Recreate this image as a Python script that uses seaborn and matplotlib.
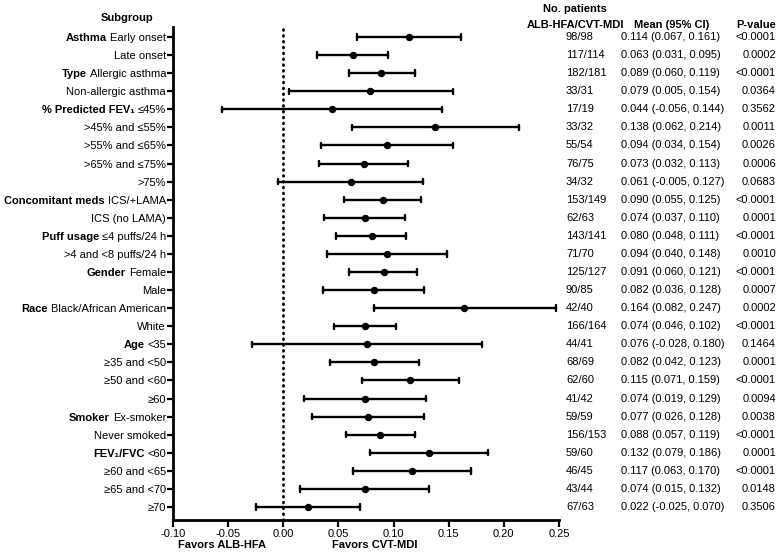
import numpy as np
import pandas as pd
import matplotlib
matplotlib.use("Agg")
import matplotlib.pyplot as plt
import matplotlib.transforms as mtransforms
import seaborn as sns

bold_parts = ["Asthma", "", "Type", "", "% Predicted FEV\u2081", "", "", "", "",
              "Concomitant meds", "", "Puff usage", "", "Gender", "", "Race", "",
              "Age", "", "", "", "Smoker", "", "FEV\u2081/FVC", "", "", ""]
normal_parts = ["Early onset", "Late onset", "Allergic asthma", "Non-allergic asthma",
                "\u226445%", ">45% and \u226455%", ">55% and \u226465%", ">65% and \u226475%", ">75%",
                "ICS/+LAMA", "ICS (no LAMA)", "\u22644 puffs/24 h", ">4 and <8 puffs/24 h",
                "Female", "Male", "Black/African American", "White",
                "<35", "\u226535 and <50", "\u226550 and <60", "\u226560",
                "Ex-smoker", "Never smoked", "<60", "\u226560 and <65", "\u226565 and <70", "\u226570"]
patients = ["98/98", "117/114", "182/181", "33/31", "17/19", "33/32", "55/54", "76/75", "34/32",
            "153/149", "62/63", "143/141", "71/70", "125/127", "90/85", "42/40", "166/164",
            "44/41", "68/69", "62/60", "41/42", "59/59", "156/153", "59/60", "46/45", "43/44", "67/63"]
means = [0.114, 0.063, 0.089, 0.079, 0.044, 0.138, 0.094, 0.073, 0.061, 0.090, 0.074, 0.080, 0.094,
         0.091, 0.082, 0.164, 0.074, 0.076, 0.082, 0.115, 0.074, 0.077, 0.088, 0.132, 0.117, 0.074, 0.022]
lows = [0.067, 0.031, 0.060, 0.005, -0.056, 0.062, 0.034, 0.032, -0.005, 0.055, 0.037, 0.048, 0.040,
        0.060, 0.036, 0.082, 0.046, -0.028, 0.042, 0.071, 0.019, 0.026, 0.057, 0.079, 0.063, 0.015, -0.025]
highs = [0.161, 0.095, 0.119, 0.154, 0.144, 0.214, 0.154, 0.113, 0.127, 0.125, 0.110, 0.111, 0.148,
         0.121, 0.128, 0.247, 0.102, 0.180, 0.123, 0.159, 0.129, 0.128, 0.119, 0.186, 0.170, 0.132, 0.070]
pvalues = ["<0.0001", "0.0002", "<0.0001", "0.0364", "0.3562", "0.0011", "0.0026", "0.0006", "0.0683",
           "<0.0001", "0.0001", "<0.0001", "0.0010", "<0.0001", "0.0007", "0.0002", "<0.0001",
           "0.1464", "0.0001", "<0.0001", "0.0094", "0.0038", "<0.0001", "0.0001", "<0.0001", "0.0148", "0.3506"]
x_ticks = [-0.10, -0.05, 0.00, 0.05, 0.10, 0.15, 0.20, 0.25]

n = len(means)
rows = []
for i in range(n):
    for v in (lows[i], means[i], highs[i]):
        rows.append({"row": i, "val": v})
df = pd.DataFrame(rows)

sns.set_style("ticks", {"axes.edgecolor": "black", "text.color": "black",
                        "xtick.color": "black", "ytick.color": "black",
                        "axes.labelcolor": "black"})
plt.rcParams['font.family'] = ['Liberation Sans', 'DejaVu Sans']
FS = 8

fig = plt.figure(figsize=(7.78, 5.52), dpi=100)
ax = fig.add_axes([173/778, 1 - 520/552, (559 - 173)/778, (520 - 27)/552])

sns.pointplot(data=df, x="val", y="row", orient="h", order=list(range(n)),
              estimator="median", errorbar=lambda v: (v.min(), v.max()),
              linestyle="none", color="black", markers="o", markersize=3.3,
              capsize=0.3, err_kws={"linewidth": 1.7}, ax=ax)

ax.axvline(0, color="black", lw=2, linestyle=(0, (0.3, 1.8)), dash_capstyle="round", zorder=0)

ax.set_xlim(-0.10, 0.25)
ax.set_ylim(n - 1 + 0.72, -0.553)
ax.set_xticks(x_ticks)
ax.set_xticklabels([f"{t:.2f}" for t in x_ticks], fontsize=FS, color="black")
ax.set_yticks(range(n))
ax.set_yticklabels(normal_parts, fontsize=FS, color="black")
ax.set_xlabel("")
ax.set_ylabel("")
for s in ["top", "right"]:
    ax.spines[s].set_visible(False)
for s in ["left", "bottom"]:
    ax.spines[s].set_linewidth(2)
    ax.spines[s].set_color("black")
ax.tick_params(axis="y", length=4, width=1.6, pad=1, colors="black")
ax.tick_params(axis="x", length=5, width=1.6, pad=1.5, colors="black")

# right columns
tr = mtransforms.blended_transform_factory(fig.transFigure, ax.transData)
for i in range(n):
    ax.text(566/778, i, patients[i], transform=tr, ha="left", va="center", fontsize=FS,
            color="black", clip_on=False)
    ax.text(621/778, i, f"{means[i]:.3f} ({lows[i]:.3f}, {highs[i]:.3f})", transform=tr,
            ha="left", va="center", fontsize=FS, color="black", clip_on=False)
    ax.text(776/778, i, pvalues[i], transform=tr, ha="right", va="center", fontsize=FS,
            color="black", clip_on=False)

hdr = dict(va="center", fontsize=FS, fontweight="bold", color="black")
fig.text(127/778, 1 - 18/552, "Subgroup", ha="center", **hdr)
fig.text(575/778, 1 - 9/552, "No. patients", ha="center", **hdr)
fig.text(575/778, 1 - 25/552, "ALB-HFA/CVT-MDI", ha="center", **hdr)
fig.text(672/778, 1 - 25/552, "Mean (95% CI)", ha="center", **hdr)
fig.text(776/778, 1 - 25/552, "P-value", ha="right", **hdr)
fig.text(222/778, 1 - 545/552, "Favors ALB-HFA", ha="center", **hdr)
fig.text(375/778, 1 - 545/552, "Favors CVT-MDI", ha="center", **hdr)

# bold prefixes next to tick labels
fig.canvas.draw()
renderer = fig.canvas.get_renderer()
inv = fig.transFigure.inverted()
for lab, b in zip(ax.get_yticklabels(), bold_parts):
    if not b:
        continue
    bb = lab.get_window_extent(renderer)
    x0, y0 = inv.transform((bb.x0 - 3, (bb.y0 + bb.y1) / 2))
    fig.text(x0, y0, b, ha="right", va="center", fontsize=FS, fontweight="bold", color="black")

fig.savefig("out.png", dpi=100)
